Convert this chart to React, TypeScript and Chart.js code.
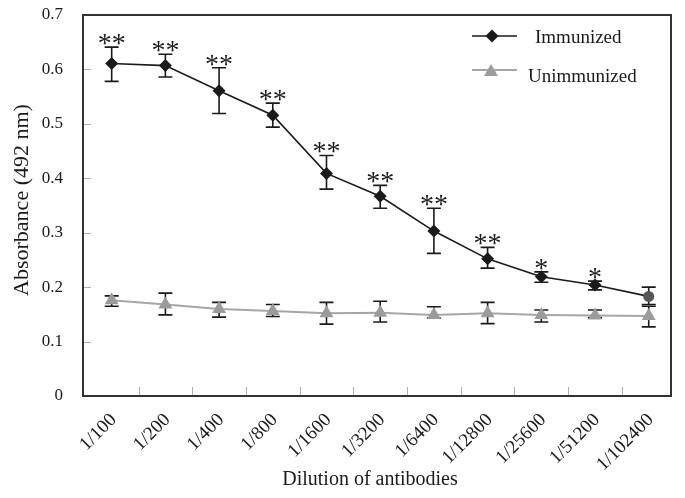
import React, { useEffect, useRef } from "react";
import { Chart, registerables } from "chart.js";

Chart.register(...registerables);

const categories = ["1/100", "1/200", "1/400", "1/800", "1/1600", "1/3200", "1/6400", "1/12800", "1/25600", "1/51200", "1/102400"];
const immunized = [0.611, 0.607, 0.561, 0.516, 0.409, 0.367, 0.303, 0.252, 0.219, 0.204, 0.183];
const immunizedUpper = [0.641, 0.628, 0.603, 0.538, 0.442, 0.387, 0.345, 0.273, 0.228, 0.211, 0.2];
const immunizedLower = [0.578, 0.586, 0.519, 0.494, 0.38, 0.345, 0.262, 0.235, 0.209, 0.195, 0.168];
const unimmunized = [0.176, 0.168, 0.16, 0.156, 0.152, 0.153, 0.149, 0.152, 0.149, 0.148, 0.147];
const unimmunizedUpper = [0.184, 0.189, 0.172, 0.168, 0.172, 0.174, 0.164, 0.172, 0.158, 0.158, 0.165];
const unimmunizedLower = [0.165, 0.149, 0.145, 0.146, 0.132, 0.136, 0.143, 0.133, 0.136, 0.144, 0.127];
const significance = ["**", "**", "**", "**", "**", "**", "**", "**", "*", "*", ""];
const yTicks = [0, 0.1, 0.2, 0.3, 0.4, 0.5, 0.6, 0.7];
const seriesNames = ["Immunized", "Unimmunized"];

const SERIF = '"Liberation Serif", "Times New Roman", serif';
const INK = "#1a1a1a";
const GRAY = "#9b9b9b";

const decorPlugin = {
  id: "decor",
  beforeDatasetsDraw(chart: any) {
    const ctx = chart.ctx;
    const xs = chart.scales.x;
    const ys = chart.scales.y;
    const bars = [
      [immunizedUpper, immunizedLower],
      [unimmunizedUpper, unimmunizedLower],
    ];
    ctx.save();
    ctx.strokeStyle = INK;
    ctx.lineWidth = 1.6;
    bars.forEach(([up, lo]) => {
      up.forEach((u: number, i: number) => {
        const x = xs.getPixelForValue(i);
        const yu = ys.getPixelForValue(u);
        const yl = ys.getPixelForValue(lo[i]);
        ctx.beginPath();
        ctx.moveTo(x, yu);
        ctx.lineTo(x, yl);
        ctx.moveTo(x - 7, yu);
        ctx.lineTo(x + 7, yu);
        ctx.moveTo(x - 7, yl);
        ctx.lineTo(x + 7, yl);
        ctx.stroke();
      });
    });
    ctx.restore();
  },
  afterDatasetsDraw(chart: any) {
    const ctx = chart.ctx;
    const xs = chart.scales.x;
    const ys = chart.scales.y;
    const area = chart.chartArea;
    ctx.save();
    // significance marks
    ctx.fillStyle = INK;
    ctx.font = `28px ${SERIF}`;
    ctx.textAlign = "center";
    ctx.textBaseline = "alphabetic";
    significance.forEach((s, i) => {
      if (!s) return;
      const x = xs.getPixelForValue(i);
      const top = ys.getPixelForValue(immunizedUpper[i]);
      ctx.fillText(s, x, top + 5);
    });
    // frame
    ctx.strokeStyle = "#333";
    ctx.lineWidth = 2;
    ctx.strokeRect(area.left, area.top, area.right - area.left, area.bottom - area.top);
    // inner ticks
    ctx.strokeStyle = "#b0b0b0";
    ctx.lineWidth = 1;
    ctx.beginPath();
    yTicks.slice(1, -1).forEach((v) => {
      const y = Math.round(ys.getPixelForValue(v)) + 0.5;
      ctx.moveTo(area.left + 1, y);
      ctx.lineTo(area.left + 8, y);
    });
    for (let i = 0; i < categories.length - 1; i++) {
      const x = Math.round(xs.getPixelForValue(i + 0.5)) + 0.5;
      ctx.moveTo(x, area.bottom - 1);
      ctx.lineTo(x, area.bottom - 9);
    }
    ctx.stroke();
    // legend
    ctx.lineWidth = 1.5;
    ctx.strokeStyle = INK;
    ctx.beginPath();
    ctx.moveTo(472, 36);
    ctx.lineTo(517, 36);
    ctx.stroke();
    ctx.fillStyle = INK;
    ctx.beginPath();
    ctx.moveTo(492 - 6.5, 36);
    ctx.lineTo(492, 36 - 6.5);
    ctx.lineTo(492 + 6.5, 36);
    ctx.lineTo(492, 36 + 6.5);
    ctx.closePath();
    ctx.fill();
    ctx.strokeStyle = "#a6a6a6";
    ctx.lineWidth = 2;
    ctx.beginPath();
    ctx.moveTo(472, 70);
    ctx.lineTo(517, 70);
    ctx.stroke();
    ctx.fillStyle = GRAY;
    const r = 8;
    ctx.beginPath();
    ctx.moveTo(491, 72 - r);
    ctx.lineTo(491 + r * 0.866, 72 + r / 2);
    ctx.lineTo(491 - r * 0.866, 72 + r / 2);
    ctx.closePath();
    ctx.fill();
    ctx.fillStyle = INK;
    ctx.font = `19px ${SERIF}`;
    ctx.textAlign = "left";
    ctx.textBaseline = "middle";
    ctx.fillText(seriesNames[0], 535, 38);
    ctx.fillText(seriesNames[1], 528, 77);
    // axis titles
    ctx.font = `20px ${SERIF}`;
    ctx.textAlign = "center";
    ctx.textBaseline = "alphabetic";
    ctx.fillText("Dilution of antibodies", 370, 485);
    ctx.save();
    ctx.translate(28, 200);
    ctx.rotate(-Math.PI / 2);
    ctx.textBaseline = "alphabetic";
    ctx.font = `22px ${SERIF}`;
    ctx.fillText("Absorbance (492 nm)", 0, 0);
    ctx.restore();
    ctx.restore();
  },
};

export default function App() {
  const ref = useRef<HTMLCanvasElement>(null);
  useEffect(() => {
    document.body.style.margin = "0";
    const canvas = ref.current!;
    const last = immunized.length - 1;
    const chart = new Chart(canvas, {
      type: "line",
      data: {
        datasets: [
          {
            label: seriesNames[0],
            data: immunized.map((y, i) => ({ x: i, y })),
            borderColor: INK,
            borderWidth: 1.6,
            pointStyle: immunized.map((_, i) => (i === last ? "circle" : "rectRot")) as any,
            pointRadius: immunized.map((_, i) => (i === last ? 5.5 : 6.5)),
            pointBackgroundColor: immunized.map((_, i) => (i === last ? "#555" : INK)),
            pointBorderWidth: 0,
            tension: 0,
            order: 1,
          },
          {
            label: seriesNames[1],
            data: unimmunized.map((y, i) => ({ x: i, y })),
            borderColor: "#a6a6a6",
            borderWidth: 2,
            pointStyle: "triangle",
            pointRadius: 8,
            pointBackgroundColor: GRAY,
            pointBorderWidth: 0,
            tension: 0,
            order: 0,
          },
        ],
      },
      options: {
        responsive: false,
        animation: false,
        layout: { padding: { left: 0, top: 15, right: 14, bottom: 0 } },
        plugins: { legend: { display: false }, tooltip: { enabled: false } },
        scales: {
          x: {
            type: "linear",
            min: -0.534,
            max: 10.415,
            grid: { display: false, drawTicks: false },
            border: { display: false },
            afterBuildTicks: (s: any) => {
              s.ticks = categories.map((_, i) => ({ value: i }));
            },
            afterFit: (s: any) => {
              s.height = 102;
              s.paddingLeft = 0;
              s.paddingRight = 0;
            },
            ticks: {
              autoSkip: false,
              minRotation: 45,
              maxRotation: 45,
              padding: 13,
              labelOffset: 2,
              color: INK,
              font: { family: SERIF, size: 19 },
              callback: (v: any) => categories[Math.round(Number(v))] ?? "",
            },
          },
          y: {
            min: 0,
            max: 0.7,
            grid: { display: false, drawTicks: false },
            border: { display: false },
            afterBuildTicks: (s: any) => {
              s.ticks = yTicks.map((v) => ({ value: v }));
            },
            afterFit: (s: any) => {
              s.width = 83;
              s.paddingTop = 0;
              s.paddingBottom = 0;
            },
            ticks: {
              padding: 20,
              color: INK,
              font: { family: SERIF, size: 17 },
              callback: (v: any) => (Number(v) === 0 ? "0" : Number(v).toFixed(1)),
            },
          },
        },
      },
      plugins: [decorPlugin],
    });
    return () => chart.destroy();
  }, []);
  return (
    <div style={{ width: 685, height: 498, position: "relative", background: "#fff" }}>
      <canvas ref={ref} width={685} height={498} />
    </div>
  );
}
